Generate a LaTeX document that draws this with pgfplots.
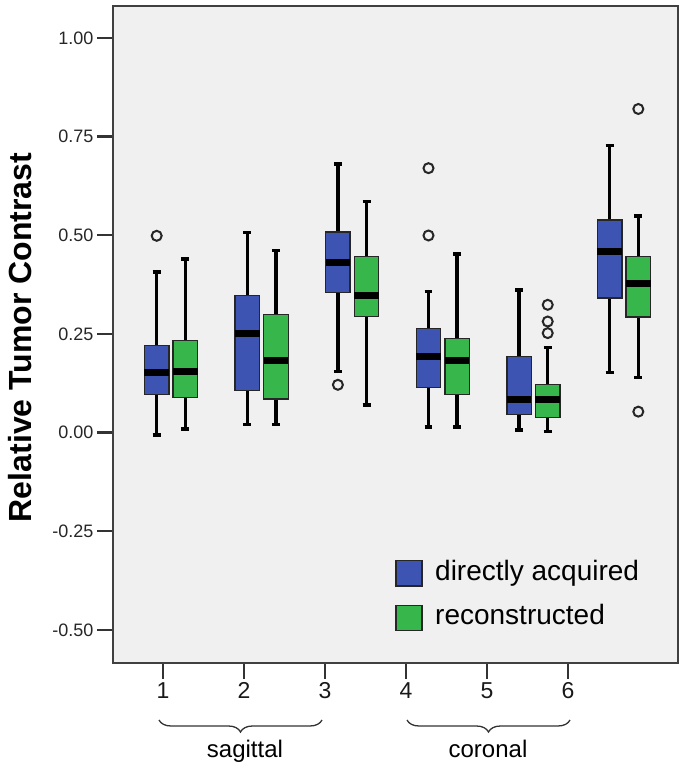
\documentclass[border=0pt]{standalone}
\usepackage{fontspec}
\setmainfont{Liberation Sans}
\usepackage{pgfplots}
\pgfplotsset{compat=1.18}
\usepgfplotslibrary{statistics}
\usetikzlibrary{decorations.pathreplacing}
\definecolor{bluebox}{RGB}{62,84,178}
\definecolor{greenbox}{RGB}{55,182,75}
\definecolor{bgc}{RGB}{240,240,240}
\pgfplotsset{
  bluestyle/.style={boxplot/draw direction=y, boxplot/every box/.style={fill=bluebox, draw=black!85, line width=1.3pt},
    mark=o, mark size=5pt, mark options={line width=2pt, draw=black!85, fill=none}},
  greenstyle/.style={boxplot/draw direction=y, boxplot/every box/.style={fill=greenbox, draw=black!85, line width=1.3pt},
    mark=o, mark size=5pt, mark options={line width=2pt, draw=black!85, fill=none}},
}
\begin{document}
\begin{tikzpicture}
\useasboundingbox (0,0) rectangle (685pt,775pt);
\begin{axis}[
  at={(113pt,112pt)}, anchor=south west,
  scale only axis, width=565pt, height=657pt,
  xmin=0.3598, xmax=6.596, ymin=-0.584, ymax=1.081,
  axis background/.style={fill=bgc},
  axis line style={line width=1.3pt, black!75},
  tick align=outside,
  xtick pos=bottom, ytick pos=left,
  xtick={0.9117,1.8057,2.6998,3.5938,4.4879,5.3819},
  xticklabels={1,2,3,4,5,6},
  ytick={-0.5,-0.25,0,0.25,0.5,0.75,1},
  yticklabels={-0.50,-0.25,0.00,0.25,0.50,0.75,1.00},
  major tick length=16pt,
  tick style={line width=2.2pt, black!80},
  yticklabel style={font=\fontsize{18}{20}\selectfont, text=black!85},
  xticklabel style={font=\fontsize{23}{26}\selectfont, text=black!90},
  boxplot/draw direction=y,
  boxplot/box extend=0.27,
  boxplot/whisker extend=0.088,
  boxplot/every whisker/.style={line width=3.4pt, black},
  boxplot/every median/.style={line width=7pt, black},
  clip=false,
]
% group 1
\addplot[bluestyle, boxplot prepared={draw position=0.842, lower whisker=-0.006, lower quartile=0.0956, median=0.1513, upper quartile=0.2206, upper whisker=0.4066}] coordinates {(0,0.4986)};
\addplot[greenstyle, boxplot prepared={draw position=1.158, lower whisker=0.0094, lower quartile=0.0897, median=0.1539, upper quartile=0.2324, upper whisker=0.4395}] coordinates {};
% group 2
\addplot[bluestyle, boxplot prepared={draw position=1.842, lower whisker=0.021, lower quartile=0.1057, median=0.250, upper quartile=0.347, upper whisker=0.507}] coordinates {};
\addplot[greenstyle, boxplot prepared={draw position=2.158, lower whisker=0.0203, lower quartile=0.0854, median=0.1817, upper quartile=0.300, upper whisker=0.4606}] coordinates {};
% group 3
\addplot[bluestyle, boxplot prepared={draw position=2.842, lower whisker=0.154, lower quartile=0.355, median=0.431, upper quartile=0.508, upper whisker=0.681}] coordinates {(0,0.121)};
\addplot[greenstyle, boxplot prepared={draw position=3.158, lower whisker=0.070, lower quartile=0.294, median=0.3465, upper quartile=0.446, upper whisker=0.5856}] coordinates {};
% group 4
\addplot[bluestyle, boxplot prepared={draw position=3.842, lower whisker=0.0136, lower quartile=0.115, median=0.1927, upper quartile=0.263, upper whisker=0.3575}] coordinates {(0,0.4994) (0,0.670)};
\addplot[greenstyle, boxplot prepared={draw position=4.158, lower whisker=0.0136, lower quartile=0.0973, median=0.1825, upper quartile=0.239, upper whisker=0.452}] coordinates {};
% group 5
\addplot[bluestyle, boxplot prepared={draw position=4.842, lower whisker=0.0068, lower quartile=0.0466, median=0.083, upper quartile=0.1927, upper whisker=0.361}] coordinates {};
\addplot[greenstyle, boxplot prepared={draw position=5.158, lower whisker=0.0025, lower quartile=0.039, median=0.0847, upper quartile=0.121, upper whisker=0.2155}] coordinates {(0,0.252) (0,0.2814) (0,0.3237)};
% group 6
\addplot[bluestyle, boxplot prepared={draw position=5.842, lower whisker=0.152, lower quartile=0.3407, median=0.459, upper quartile=0.539, upper whisker=0.7275}] coordinates {};
\addplot[greenstyle, boxplot prepared={draw position=6.158, lower whisker=0.140, lower quartile=0.2925, median=0.3787, upper quartile=0.446, upper whisker=0.549}] coordinates {(0,0.053) (0,0.820)};
\end{axis}
% y label
\node[rotate=90, font=\bfseries\fontsize{32}{36}\selectfont] at (20pt,437.5pt) {Relative Tumor Contrast};
% legend
\draw[fill=bluebox, draw=black!85, line width=1.3pt] (396pt,189pt) rectangle (422pt,214.3pt);
\draw[fill=greenbox, draw=black!85, line width=1.3pt] (396pt,144.3pt) rectangle (422pt,169.3pt);
\node[anchor=base west, inner sep=0pt, font=\fontsize{28}{32}\selectfont] at (435pt,194.3pt) {directly acquired};
\node[anchor=base west, inner sep=0pt, font=\fontsize{28}{32}\selectfont] at (435pt,150pt) {reconstructed};
% braces
\draw[line width=1.3pt, black!80, decorate, decoration={brace, mirror, amplitude=12pt}] (159pt,55pt) -- (322pt,55pt);
\draw[line width=1.3pt, black!80, decorate, decoration={brace, mirror, amplitude=12pt}] (407pt,55pt) -- (570pt,55pt);
\node[anchor=base, inner sep=0pt, font=\fontsize{24}{28}\selectfont] at (245pt,17pt) {sagittal};
\node[anchor=base, inner sep=0pt, font=\fontsize{24}{28}\selectfont] at (488pt,17pt) {coronal};
\end{tikzpicture}
\end{document}
